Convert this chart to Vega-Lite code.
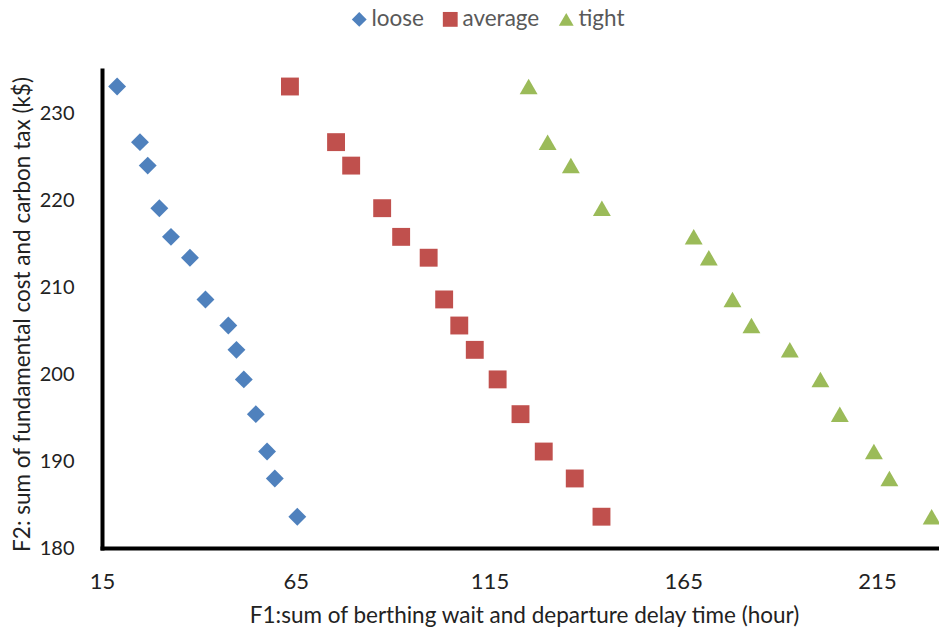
{
  "$schema": "https://vega.github.io/schema/vega-lite/v6.json",
  "width": 837,
  "height": 478,
  "autosize": {"type": "none"},
  "padding": {"left": 102, "top": 70, "right": 0, "bottom": 86},
  "background": "white",
  "config": {"view": {"stroke": null}, "font": "Lato"},
  "data": {
    "values": [
      {"series": "loose", "f1": 18.9, "f2": 233.1},
      {"series": "loose", "f1": 24.8, "f2": 226.7},
      {"series": "loose", "f1": 26.8, "f2": 224.0},
      {"series": "loose", "f1": 29.8, "f2": 219.1},
      {"series": "loose", "f1": 32.8, "f2": 215.8},
      {"series": "loose", "f1": 37.7, "f2": 213.4},
      {"series": "loose", "f1": 41.7, "f2": 208.6},
      {"series": "loose", "f1": 47.6, "f2": 205.6},
      {"series": "loose", "f1": 49.7, "f2": 202.8},
      {"series": "loose", "f1": 51.6, "f2": 199.4},
      {"series": "loose", "f1": 54.7, "f2": 195.4},
      {"series": "loose", "f1": 57.6, "f2": 191.1},
      {"series": "loose", "f1": 59.6, "f2": 188.0},
      {"series": "loose", "f1": 65.4, "f2": 183.6},
      {"series": "average", "f1": 63.5, "f2": 233.1},
      {"series": "average", "f1": 75.4, "f2": 226.7},
      {"series": "average", "f1": 79.3, "f2": 224.0},
      {"series": "average", "f1": 87.3, "f2": 219.1},
      {"series": "average", "f1": 92.2, "f2": 215.8},
      {"series": "average", "f1": 99.3, "f2": 213.4},
      {"series": "average", "f1": 103.3, "f2": 208.6},
      {"series": "average", "f1": 107.2, "f2": 205.6},
      {"series": "average", "f1": 111.2, "f2": 202.8},
      {"series": "average", "f1": 117.1, "f2": 199.4},
      {"series": "average", "f1": 123.0, "f2": 195.4},
      {"series": "average", "f1": 129.0, "f2": 191.1},
      {"series": "average", "f1": 137.0, "f2": 188.0},
      {"series": "average", "f1": 143.9, "f2": 183.6},
      {"series": "tight", "f1": 125.1, "f2": 233.1},
      {"series": "tight", "f1": 130.0, "f2": 226.7},
      {"series": "tight", "f1": 136.0, "f2": 224.0},
      {"series": "tight", "f1": 144.0, "f2": 219.1},
      {"series": "tight", "f1": 167.7, "f2": 215.8},
      {"series": "tight", "f1": 171.6, "f2": 213.4},
      {"series": "tight", "f1": 177.7, "f2": 208.6},
      {"series": "tight", "f1": 182.6, "f2": 205.6},
      {"series": "tight", "f1": 192.5, "f2": 202.8},
      {"series": "tight", "f1": 200.4, "f2": 199.4},
      {"series": "tight", "f1": 205.4, "f2": 195.4},
      {"series": "tight", "f1": 214.2, "f2": 191.1},
      {"series": "tight", "f1": 218.2, "f2": 188.0},
      {"series": "tight", "f1": 229.1, "f2": 183.6}
    ]
  },
  "mark": {"type": "point", "filled": true, "opacity": 1, "size": 320, "clip": false},
  "encoding": {
    "x": {
      "field": "f1",
      "type": "quantitative",
      "scale": {"domain": [15, 231], "nice": false, "zero": false},
      "axis": {
        "values": [15, 65, 115, 165, 215],
        "title": "F1:sum of berthing wait and departure delay time (hour)",
        "grid": false,
        "ticks": false,
        "domainColor": "black",
        "domainWidth": 4,
        "domainCap": "square",
        "labelFont": "Lato",
        "labelFontSize": 22,
        "labelColor": "#222222",
        "labelPadding": 23,
        "labelFlush": false,
        "titleFont": "Lato",
        "titleFontSize": 22.5,
        "titleFontWeight": "normal",
        "titleColor": "#222222",
        "titleX": 422,
        "titleY": 74,
        "titleAlign": "center",
        "titleBaseline": "alphabetic"
      }
    },
    "y": {
      "field": "f2",
      "type": "quantitative",
      "scale": {"domain": [180, 235], "nice": false, "zero": false},
      "axis": {
        "values": [180, 190, 200, 210, 220, 230],
        "title": "F2: sum of fundamental cost and carbon tax (k$)",
        "grid": false,
        "ticks": false,
        "domainColor": "black",
        "domainWidth": 4,
        "domainCap": "square",
        "labelFont": "Lato",
        "labelFontSize": 20,
        "labelColor": "#222222",
        "labelPadding": 28,
        "labelFlush": false,
        "titleFont": "Lato",
        "titleFontSize": 22.5,
        "titleFontWeight": "normal",
        "titleColor": "#222222",
        "titleAngle": 270,
        "titleX": -80,
        "titleY": 244,
        "titleAlign": "center",
        "titleBaseline": "middle"
      }
    },
    "color": {
      "field": "series",
      "type": "nominal",
      "scale": {"domain": ["loose", "average", "tight"], "range": ["#4F81BD", "#C0504D", "#9BBB59"]},
      "legend": {
        "title": null,
        "orient": "none",
        "legendX": 246,
        "legendY": -62,
        "direction": "horizontal",
        "symbolSize": 220,
        "symbolStrokeWidth": 0,
        "labelFont": "Lato",
        "labelFontSize": 22.5,
        "labelColor": "#595959",
        "labelOffset": 1,
        "columnPadding": 15,
        "padding": 0
      }
    },
    "shape": {
      "field": "series",
      "type": "nominal",
      "scale": {"domain": ["loose", "average", "tight"], "range": ["diamond", "square", "triangle-up"]}
    }
  }
}
